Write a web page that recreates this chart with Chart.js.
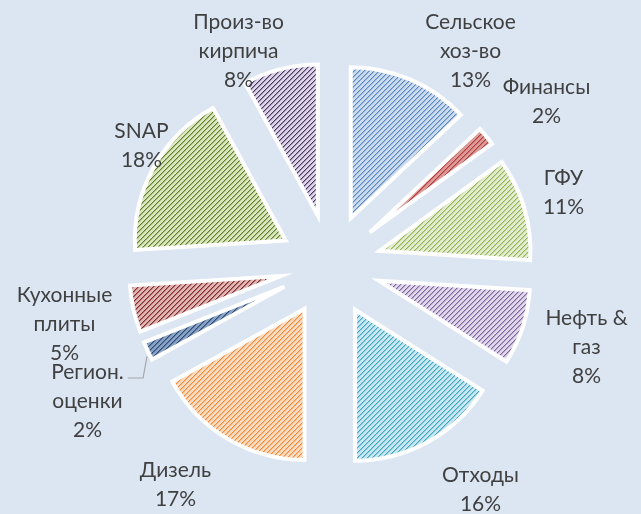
<!DOCTYPE html>
<html>
<head>
<meta charset="utf-8">
<script src="https://cdn.jsdelivr.net/npm/chart.js@4.4.0/dist/chart.umd.min.js"></script>
<style>
  html, body { margin: 0; padding: 0; background: #dce6f2; }
  canvas { display: block; }
</style>
</head>
<body>
<canvas id="pieChart" width="641" height="514"></canvas>
<script>
// sectors clockwise from 12 o'clock
var categories = ['Сельское\nхоз-во', 'Финансы', 'ГФУ', 'Нефть &\nгаз', 'Отходы', 'Дизель', 'Регион.\nоценки', 'Кухонные\nплиты', 'SNAP', 'Произ-во\nкирпича'];
var shares = [13, 2, 11, 8, 16, 17, 2, 5, 18, 8];

// light base, stripe, stripe core
var palette = [
  ['#cddbee', '#9ab8dc', '#5a88c2'],
  ['#dc9a98', '#cd6f6c', '#b33f3c'],
  ['#e3ecd0', '#c3d79a', '#94b354'],
  ['#dfd8e9', '#b6a6cc', '#8064a2'],
  ['#c8e7f0', '#88cbdd', '#45a8c3'],
  ['#fcdcc0', '#f9bb88', '#f08a3c'],
  ['#8aa3c4', '#5877a2', '#2c4d75'],
  ['#ddb6b5', '#b56f6d', '#842f2d'],
  ['#dae5c2', '#a6bd72', '#62802f'],
  ['#dcd5e6', '#9d8cb5', '#4d3b62']
];

// label placement relative to pie centre (first line), px
var labelOffsets = [
  [140, -243], [216, -178], [233, -87], [256, 53], [150, 210],
  [-155, 205], [-243, 107], [-266, 30], [-189, -134], [-92, -243]
];

var pieRadius = 151;
var explode = 51;

function hatch(c) {
  var n = 5;
  var t = document.createElement('canvas');
  t.width = n; t.height = n;
  var g = t.getContext('2d');
  g.fillStyle = c[0];
  g.fillRect(0, 0, n, n);
  for (var x = 0; x < n; x++) {
    for (var y = 0; y < n; y++) {
      var k = (x + y) % n;
      if (k === n - 1) { g.fillStyle = c[2]; g.fillRect(x, y, 1, 1); }
      else if (k === 0) { g.fillStyle = c[1]; g.fillRect(x, y, 1, 1); }
    }
  }
  return g.createPattern(t, 'repeat');
}

// exploded slices, all with the same radius
var explodedPie = {
  id: 'explodedPie',
  beforeDatasetDraw: function (chart, args) {
    var ctx = chart.ctx;
    ctx.save();
    args.meta.data.forEach(function (arc) {
      var mid = (arc.startAngle + arc.endAngle) / 2;
      var ox = arc.x + Math.cos(mid) * explode;
      var oy = arc.y + Math.sin(mid) * explode;
      ctx.beginPath();
      ctx.moveTo(ox, oy);
      ctx.arc(ox, oy, arc.outerRadius, arc.startAngle, arc.endAngle);
      ctx.closePath();
      ctx.fillStyle = arc.options.backgroundColor;
      ctx.fill();
      ctx.lineJoin = 'miter';
      ctx.lineWidth = arc.options.borderWidth;
      ctx.strokeStyle = arc.options.borderColor;
      ctx.stroke();
    });
    ctx.restore();
    return false;
  }
};

var sliceLabels = {
  id: 'sliceLabels',
  afterDatasetsDraw: function (chart) {
    var meta = chart.getDatasetMeta(0);
    var ctx = chart.ctx;
    var cx = meta.data[0].x, cy = meta.data[0].y;
    var lh = 29;
    ctx.save();
    ctx.font = '21px Lato, "Noto Sans", sans-serif';
    ctx.fillStyle = '#404040';
    ctx.textAlign = 'center';
    ctx.textBaseline = 'middle';
    categories.forEach(function (name, i) {
      var lines = name.split('\n').concat([shares[i] + '%']);
      var x = cx + labelOffsets[i][0], y = cy + labelOffsets[i][1];
      lines.forEach(function (s, k) { ctx.fillText(s, x, y + k * lh); });
    });
    // leader line for the small regional slice
    var arc = meta.data[6];
    var mid = (arc.startAngle + arc.endAngle) / 2;
    var a = mid - 0.03;
    var ax = cx + Math.cos(mid) * explode, ay = cy + Math.sin(mid) * explode;
    var ex = ax + Math.cos(a) * (pieRadius + 3), ey = ay + Math.sin(a) * (pieRadius + 3);
    var lx = cx + labelOffsets[6][0], ly = cy + labelOffsets[6][1];
    var w = ctx.measureText('Регион.').width;
    ctx.strokeStyle = '#a6a6a6';
    ctx.lineWidth = 1.2;
    ctx.beginPath();
    ctx.moveTo(lx + w / 2 + 4, ly + 6);
    ctx.lineTo(ex - 4, ly + 6);
    ctx.lineTo(ex, ey);
    ctx.stroke();
    ctx.restore();
  }
};

var ctx = document.getElementById('pieChart').getContext('2d');
var myPie = new Chart(ctx, {
  type: 'pie',
  data: {
    labels: categories,
    datasets: [{
      data: shares,
      backgroundColor: palette.map(hatch),
      borderColor: '#ffffff',
      borderWidth: 4,
      radius: pieRadius
    }]
  },
  options: {
    responsive: false,
    animation: false,
    events: [],
    layout: { padding: { left: 20, right: 0, top: 16, bottom: 0 } },
    plugins: {
      legend: { display: false },
      tooltip: { enabled: false }
    }
  },
  plugins: [explodedPie, sliceLabels]
});
</script>
</body>
</html>
